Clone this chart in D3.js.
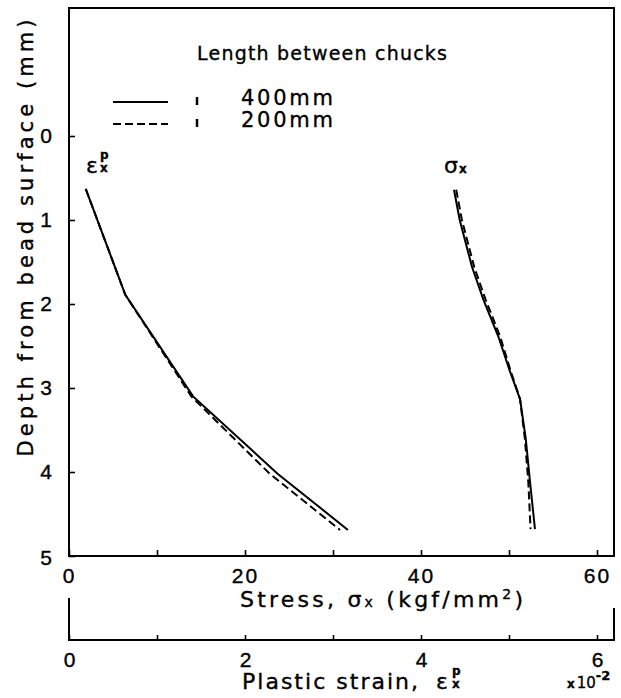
<!DOCTYPE html>
<html>
<head>
<meta charset="utf-8">
<script src="https://cdn.jsdelivr.net/npm/d3@7/dist/d3.min.js"></script>
<style>
  body { margin: 0; background: #fff; }
  svg { display: block; font-family: "DejaVu Sans", sans-serif; }
  svg text { fill: #000; stroke: #000; stroke-width: 0.35px; }
  .axis path { display: none; }
  .axis line { stroke: #000; stroke-width: 1.6; }
</style>
</head>
<body>
<script>
// Depth profiles of residual stress and plastic strain below the bead surface
const depthStrain = [0.63, 1.89, 3.10, 4.02, 4.69];
const strain400   = [0.19, 0.64, 1.41, 2.37, 3.17];   // x10^-2
const strain200   = [0.19, 0.64, 1.39, 2.28, 3.08];   // x10^-2

const depthStress = [0.64, 1.00, 1.56, 1.95, 2.39, 2.80, 3.13, 3.60, 4.13, 4.68];
const stress400   = [43.75, 44.4, 45.8, 47.1, 48.8, 50.1, 51.25, 51.9, 52.4, 52.95];
const stress200   = [44.0, 44.65, 46.05, 47.35, 49.0, 50.2, 51.25, 51.8, 52.2, 52.45];

const depthTicks  = [0, 1, 2, 3, 4, 5];
const stressTicks = [0, 10, 20, 30, 40, 50, 60];
const stressLabels = [0, 20, 40, 60];
const strainTicks = [0, 1, 2, 3, 4, 5, 6];
const strainLabels = [0, 2, 4, 6];

const legendItems = [
  { label: "400mm", dash: null },
  { label: "200mm", dash: "8,4" }
];

const W = 621, H = 698;
const frame = { left: 69, right: 614, top: 8, bottom: 556 };

const xStress = d3.scaleLinear().domain([0, 60]).range([69, 597]);
const xStrain = d3.scaleLinear().domain([0, 6]).range([69, 597]);
const y = d3.scaleLinear().domain([0, 5]).range([136, 556]);

const svg = d3.select("body").append("svg").attr("width", W).attr("height", H);

// plot frame
svg.append("rect")
  .attr("x", frame.left).attr("y", frame.top)
  .attr("width", frame.right - frame.left).attr("height", frame.bottom - frame.top)
  .attr("fill", "none").attr("stroke", "#000").attr("stroke-width", 2);

// depth axis (ticks point inward)
const yAxis = svg.append("g").attr("class", "axis")
  .attr("transform", `translate(${frame.left},0)`)
  .call(d3.axisLeft(y).tickValues(depthTicks).tickSize(-6).tickPadding(16)
    .tickFormat(d3.format("d")));
yAxis.selectAll("text").attr("x", -23).attr("text-anchor", "middle")
  .attr("font-size", 21);
yAxis.selectAll(".tick").filter(d => d === 5).select("text").attr("dy", "0.42em");

// stress axis
const xAxis = svg.append("g").attr("class", "axis")
  .attr("transform", `translate(0,${frame.bottom})`)
  .call(d3.axisBottom(xStress).tickValues(stressTicks).tickSize(-6).tickPadding(12)
    .tickFormat(d => stressLabels.includes(d) ? d : ""));
xAxis.selectAll("text").attr("font-size", 21).attr("letter-spacing", 2);

// plastic strain axis, drawn as a separate bracketed scale below
const strainY = 640;
svg.append("path")
  .attr("d", `M${frame.left},598 V${strainY} H${frame.right} V608`)
  .attr("fill", "none").attr("stroke", "#000").attr("stroke-width", 2);
const sAxis = svg.append("g").attr("class", "axis")
  .attr("transform", `translate(0,${strainY})`)
  .call(d3.axisBottom(xStrain).tickValues(strainTicks).tickSize(-5).tickPadding(12)
    .tickFormat(d => strainLabels.includes(d) ? d : ""));
sAxis.selectAll("text").attr("font-size", 21);

// axis titles
const stressTitle = svg.append("text")
  .attr("x", 240).attr("y", 607).attr("font-size", 22)
  .attr("textLength", 283).attr("lengthAdjust", "spacing");
stressTitle.append("tspan").text("Stress, σ");
stressTitle.append("tspan").attr("font-size", 14).text("x");
stressTitle.append("tspan").text("  (kgf/mm");
stressTitle.append("tspan").attr("font-size", 14).attr("dy", -8).text("2");
stressTitle.append("tspan").attr("dy", 8).text(")");

svg.append("text")
  .attr("x", 242).attr("y", 689).attr("font-size", 22)
  .attr("textLength", 176).attr("lengthAdjust", "spacing")
  .text("Plastic strain,");
const epsAxisLabel = svg.append("g").attr("transform", "translate(436,689)");
epsAxisLabel.append("text").attr("font-size", 22).text("ε");
epsAxisLabel.append("text").attr("x", 16).attr("y", -14).attr("font-size", 12).attr("font-weight", "bold").text("p");
epsAxisLabel.append("text").attr("x", 16).attr("y", -1).attr("font-size", 12).attr("font-weight", "bold").text("x");

const mult = svg.append("text").attr("x", 567).attr("y", 688).attr("font-size", 15);
mult.append("tspan").attr("font-size", 12).attr("font-weight", "bold").text("x");
mult.append("tspan").attr("dx", 2).text("10");
mult.append("tspan").attr("dy", -8).attr("font-size", 13).attr("font-weight", "bold").text("-2");

svg.append("text")
  .attr("transform", "translate(33,238) rotate(-90)")
  .attr("text-anchor", "middle").attr("font-size", 21)
  .attr("textLength", 437).attr("lengthAdjust", "spacing")
  .text("Depth from bead surface (mm)");

// legend
svg.append("text").attr("x", 197).attr("y", 60).attr("font-size", 19)
  .attr("textLength", 250).attr("lengthAdjust", "spacing")
  .text("Length between chucks");
legendItems.forEach((it, i) => {
  const ly = 102 + i * 22;
  svg.append("line").attr("x1", 113).attr("x2", 168).attr("y1", ly).attr("y2", ly)
    .attr("stroke", "#000").attr("stroke-width", 2)
    .attr("stroke-dasharray", it.dash);
  svg.append("line").attr("x1", 197).attr("x2", 197).attr("y1", ly - 5).attr("y2", ly + 3)
    .attr("stroke", "#000").attr("stroke-width", 2.5);
  svg.append("text").attr("x", 241).attr("y", ly + 3).attr("font-size", 21)
    .attr("textLength", 92).attr("lengthAdjust", "spacing")
    .text(it.label);
});

// curves
const strainLine = d3.line().x(d => xStrain(d[0])).y(d => y(d[1]));
const stressLine = d3.line().x(d => xStress(d[0])).y(d => y(d[1]));

const curves = [
  { gen: strainLine, xs: strain400, ds: depthStrain, dash: null },
  { gen: strainLine, xs: strain200, ds: depthStrain, dash: "8,4" },
  { gen: stressLine, xs: stress400, ds: depthStress, dash: null },
  { gen: stressLine, xs: stress200, ds: depthStress, dash: "8,4" }
];
curves.forEach(c => {
  svg.append("path")
    .attr("d", c.gen(c.xs.map((v, i) => [v, c.ds[i]])))
    .attr("fill", "none").attr("stroke", "#000").attr("stroke-width", 2)
    .attr("stroke-dasharray", c.dash);
});

// curve labels
const epsLabel = svg.append("g").attr("transform", "translate(86,173)");
epsLabel.append("text").attr("font-size", 22).text("ε");
epsLabel.append("text").attr("x", 14).attr("y", -14).attr("font-size", 12).attr("font-weight", "bold").text("p");
epsLabel.append("text").attr("x", 14).attr("y", -1).attr("font-size", 12).attr("font-weight", "bold").text("x");

const sigLabel = svg.append("g").attr("transform", "translate(444,173)");
sigLabel.append("text").attr("font-size", 22).text("σ");
sigLabel.append("text").attr("x", 15).attr("y", 0).attr("font-size", 12).attr("font-weight", "bold").text("x");
</script>
</body>
</html>
